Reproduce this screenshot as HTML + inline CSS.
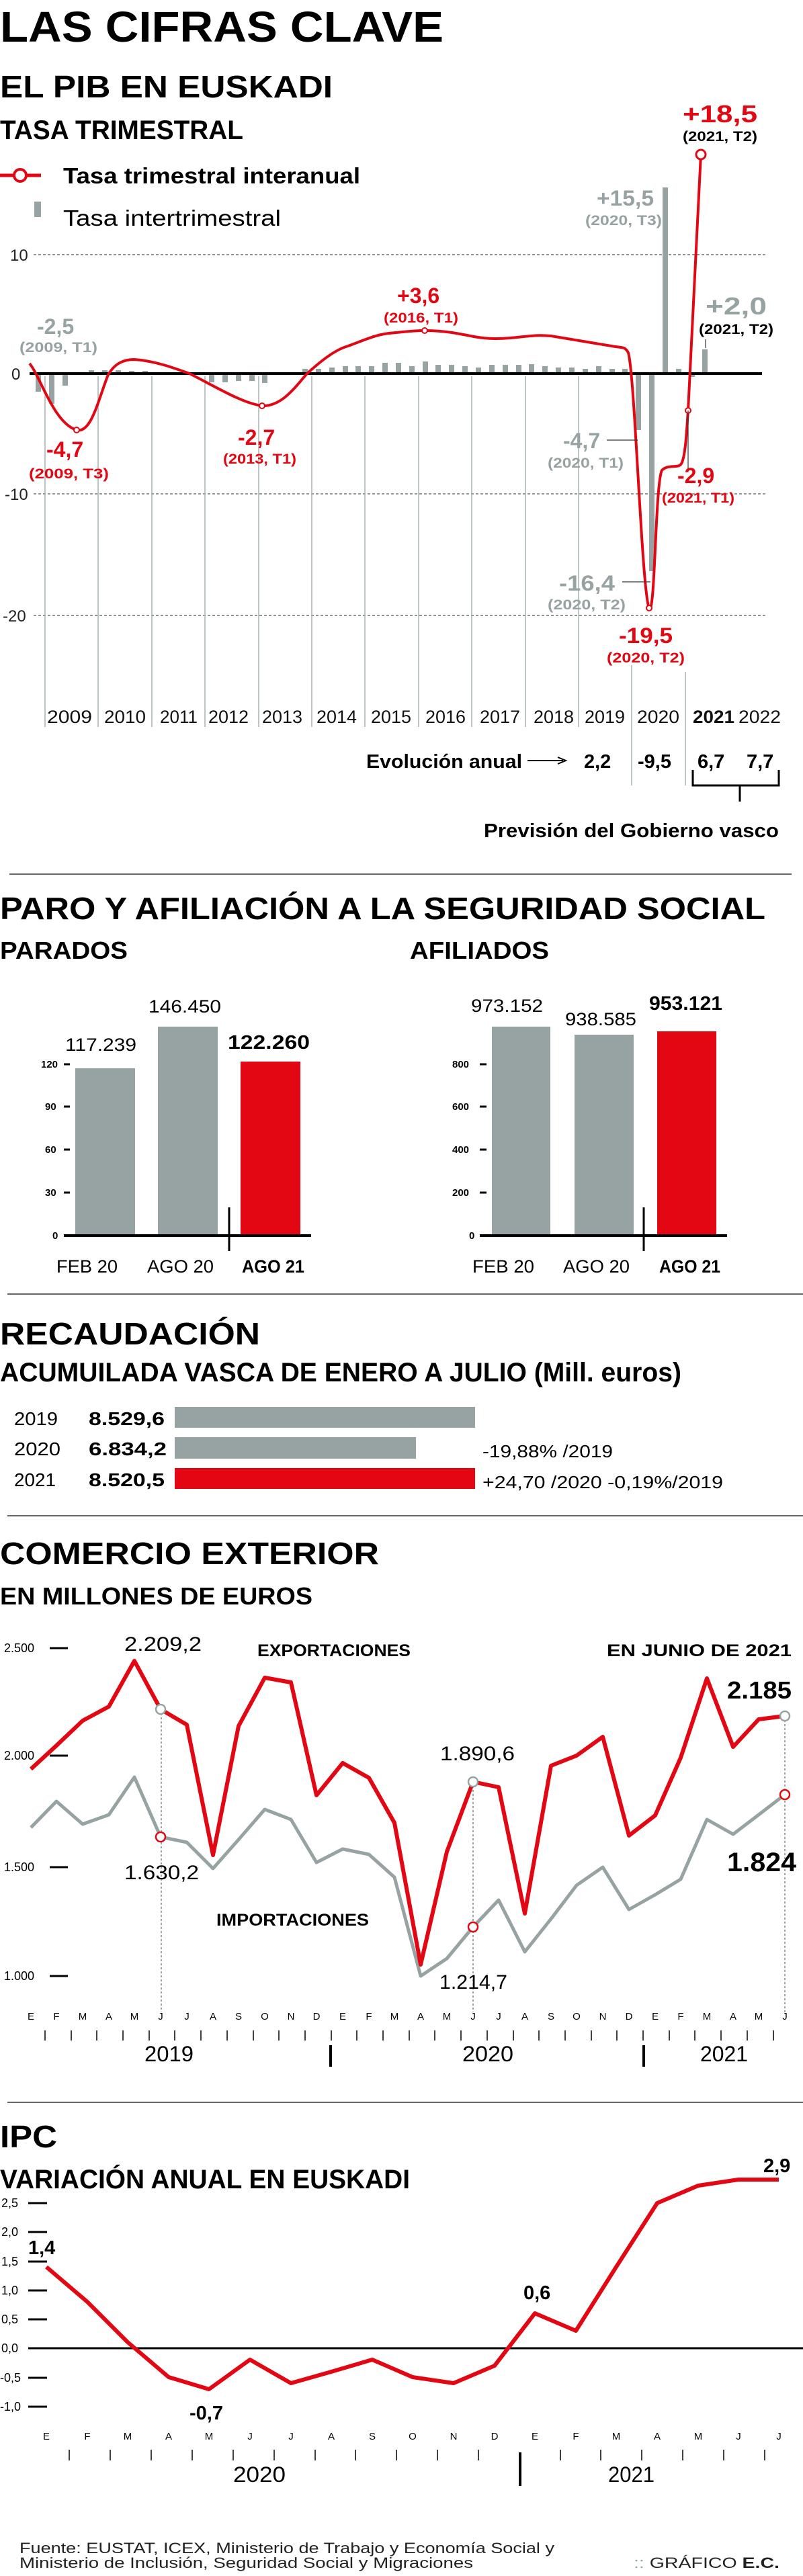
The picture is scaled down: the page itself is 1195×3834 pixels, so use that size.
<!DOCTYPE html>
<html><head><meta charset="utf-8"><style>
html,body{margin:0;padding:0;background:#fff;}
svg{display:block;}
text{font-family:"Liberation Sans",sans-serif;}
.h{font-weight:900;font-weight:bold;}
.b{font-weight:bold;}
.r{fill:#e30613;}
.g{fill:#97a3a2;}
</style></head><body>
<svg width="1195" height="3834" viewBox="0 0 1195 3834" xmlns="http://www.w3.org/2000/svg">
<rect width="1195" height="3834" fill="#fff"/>
<!-- TITLES -->
<text class="h" x="0" y="62" font-size="64" textLength="660" lengthAdjust="spacingAndGlyphs">LAS CIFRAS CLAVE</text>
<text class="h" x="0" y="145" font-size="46" textLength="495" lengthAdjust="spacingAndGlyphs">EL PIB EN EUSKADI</text>
<text class="b" x="0" y="207" font-size="40" textLength="362" lengthAdjust="spacingAndGlyphs">TASA TRIMESTRAL</text>
<!-- legend -->
<line x1="0" y1="261" x2="61" y2="261" stroke="#e30613" stroke-width="5"/>
<circle cx="30" cy="261" r="9" fill="#fff" stroke="#e30613" stroke-width="4"/>
<text class="b" x="94" y="273" font-size="33" textLength="442" lengthAdjust="spacingAndGlyphs">Tasa trimestral interanual</text>
<rect x="51" y="300" width="10" height="23" fill="#97a3a2"/>
<text x="94" y="336" font-size="33" textLength="324" lengthAdjust="spacingAndGlyphs">Tasa intertrimestral</text>
<!-- grid -->
<g stroke="#555" stroke-width="1.2" stroke-dasharray="4,3">
<line x1="50" y1="379" x2="1139" y2="379"/>
<line x1="50" y1="735" x2="1139" y2="735"/>
<line x1="50" y1="916" x2="1139" y2="916"/>
</g>
<g font-size="24" fill="#222">
<text x="15" y="388">10</text>
<text x="17" y="565">0</text>
<text x="7" y="744">-10</text>
<text x="4" y="925">-20</text>
</g>
<!-- year lines -->
<g stroke="#a9b3b2" stroke-width="1.5">
<line x1="67" y1="560" x2="67" y2="1082"/>
<line x1="146" y1="560" x2="146" y2="1082"/>
<line x1="226" y1="560" x2="226" y2="1082"/>
<line x1="305" y1="560" x2="305" y2="1082"/>
<line x1="385" y1="560" x2="385" y2="1082"/>
<line x1="464" y1="560" x2="464" y2="1082"/>
<line x1="543" y1="560" x2="543" y2="1082"/>
<line x1="623" y1="560" x2="623" y2="1082"/>
<line x1="702" y1="560" x2="702" y2="1082"/>
<line x1="782" y1="560" x2="782" y2="1082"/>
<line x1="861" y1="560" x2="861" y2="1082"/>
<line x1="940" y1="990" x2="940" y2="1169"/>
<line x1="1020" y1="1000" x2="1020" y2="1169"/>
</g>
<!-- bars -->
<g fill="#97a3a2">
<rect x="53" y="556" width="8" height="27"/><rect x="73" y="556" width="8" height="45"/><rect x="93" y="556" width="8" height="18"/>
<rect x="113" y="554" width="8" height="2"/><rect x="132" y="551" width="8" height="5"/><rect x="152" y="551" width="8" height="5"/>
<rect x="172" y="551" width="8" height="5"/><rect x="192" y="552" width="8" height="4"/><rect x="212" y="552" width="8" height="4"/>
<rect x="232" y="554" width="8" height="2"/><rect x="271" y="556" width="8" height="2"/><rect x="291" y="556" width="8" height="2"/>
<rect x="311" y="556" width="8" height="13"/><rect x="331" y="556" width="8" height="13"/><rect x="351" y="556" width="8" height="11"/>
<rect x="371" y="556" width="8" height="11"/><rect x="390" y="556" width="8" height="14"/><rect x="410" y="556" width="8" height="2"/>
<rect x="430" y="554" width="8" height="2"/><rect x="450" y="549" width="8" height="7"/><rect x="470" y="549" width="8" height="7"/>
<rect x="490" y="547" width="8" height="9"/><rect x="510" y="545" width="8" height="11"/><rect x="529" y="545" width="8" height="11"/>
<rect x="549" y="545" width="8" height="11"/><rect x="569" y="540" width="8" height="16"/><rect x="589" y="540" width="8" height="16"/>
<rect x="609" y="545" width="8" height="11"/><rect x="629" y="538" width="8" height="18"/><rect x="648" y="543" width="8" height="13"/>
<rect x="668" y="543" width="8" height="13"/><rect x="688" y="545" width="8" height="11"/><rect x="708" y="547" width="8" height="9"/>
<rect x="728" y="543" width="8" height="13"/><rect x="748" y="543" width="8" height="13"/><rect x="768" y="543" width="8" height="13"/>
<rect x="787" y="542" width="8" height="14"/><rect x="807" y="545" width="8" height="11"/><rect x="827" y="547" width="8" height="9"/>
<rect x="847" y="547" width="8" height="9"/><rect x="867" y="549" width="8" height="7"/><rect x="887" y="545" width="8" height="11"/>
<rect x="907" y="549" width="8" height="7"/><rect x="926" y="549" width="8" height="7"/>
<rect x="946" y="556" width="8" height="84"/><rect x="966" y="556" width="8" height="294"/><rect x="986" y="279" width="8" height="277"/>
<rect x="1006" y="549" width="8" height="7"/><rect x="1026" y="556" width="8" height="5"/><rect x="1045" y="520" width="8" height="36"/>
</g>
<line x1="44" y1="556" x2="1134" y2="556" stroke="#000" stroke-width="4"/>
<!-- red curve -->
<path d="M44,541 C60,560 80,630 114,640 C135,645 145,600 160,560 C170,540 185,535 200,535 C230,537 260,548 282,556 C320,575 360,600 390,604 C420,605 440,575 457,556 C480,535 500,520 518,515 C545,505 560,498 579,496 C600,494 615,492 632,492 C660,492 680,496 700,500 C720,504 735,505 760,503 C790,500 800,498 820,500 C850,505 880,510 910,515 C925,518 930,515 935,525 C945,560 955,880 966,905 C975,920 975,720 985,700 C995,690 1010,698 1014,690 C1020,680 1022,640 1024,611 L1043,230" fill="none" stroke="#e30613" stroke-width="4"/>
<g fill="#fff" stroke="#e30613" stroke-width="2">
<circle cx="114" cy="640" r="4"/><circle cx="390" cy="604" r="4"/><circle cx="632" cy="492" r="4"/><circle cx="966" cy="905" r="4"/><circle cx="1024" cy="611" r="4"/>
</g>
<circle cx="1043" cy="230" r="7" fill="#fff" stroke="#e30613" stroke-width="3"/>
<!-- leader lines -->
<g stroke="#333" stroke-width="1.2">
<line x1="903" y1="655" x2="949" y2="655"/>
<line x1="926" y1="866" x2="968" y2="866"/>
<line x1="1024" y1="611" x2="1024" y2="700"/>
<line x1="1050" y1="505" x2="1050" y2="518"/>
</g>
<!-- labels chart1 -->
<g class="b">
<text x="55" y="497" font-size="32" class="g b">-2,5</text>
<text x="29" y="524" font-size="21" class="g b" textLength="116" lengthAdjust="spacingAndGlyphs">(2009, T1)</text>
<text x="69" y="680" font-size="32" class="r b">-4,7</text>
<text x="43" y="712" font-size="21" class="r b" textLength="119" lengthAdjust="spacingAndGlyphs">(2009, T3)</text>
<text x="354" y="662" font-size="32" class="r b">-2,7</text>
<text x="332" y="690" font-size="21" class="r b" textLength="109" lengthAdjust="spacingAndGlyphs">(2013, T1)</text>
<text x="591" y="451" font-size="32" class="r b">+3,6</text>
<text x="571" y="480" font-size="21" class="r b" textLength="111" lengthAdjust="spacingAndGlyphs">(2016, T1)</text>
<text x="1016" y="182" font-size="36" class="r b" textLength="111" lengthAdjust="spacingAndGlyphs">+18,5</text>
<text x="1016" y="210" font-size="21" class="b" textLength="111" lengthAdjust="spacingAndGlyphs">(2021, T2)</text>
<text x="888" y="306" font-size="32" class="g b" textLength="85" lengthAdjust="spacingAndGlyphs">+15,5</text>
<text x="871" y="335" font-size="21" class="g b" textLength="114" lengthAdjust="spacingAndGlyphs">(2020, T3)</text>
<text x="1050" y="468" font-size="36" class="g b" textLength="91" lengthAdjust="spacingAndGlyphs">+2,0</text>
<text x="1040" y="497" font-size="21" class="b" textLength="111" lengthAdjust="spacingAndGlyphs">(2021, T2)</text>
<text x="838" y="667" font-size="32" class="g b">-4,7</text>
<text x="815" y="696" font-size="21" class="g b" textLength="113" lengthAdjust="spacingAndGlyphs">(2020, T1)</text>
<text x="832" y="879" font-size="32" class="g b" textLength="83" lengthAdjust="spacingAndGlyphs">-16,4</text>
<text x="815" y="907" font-size="21" class="g b" textLength="116" lengthAdjust="spacingAndGlyphs">(2020, T2)</text>
<text x="921" y="957" font-size="32" class="r b" textLength="80" lengthAdjust="spacingAndGlyphs">-19,5</text>
<text x="903" y="986" font-size="21" class="r b" textLength="116" lengthAdjust="spacingAndGlyphs">(2020, T2)</text>
<text x="1008" y="719" font-size="32" class="r b">-2,9</text>
<text x="985" y="748" font-size="21" class="r b" textLength="108" lengthAdjust="spacingAndGlyphs">(2021, T1)</text>
</g>
<!-- years -->
<g font-size="27" fill="#111">
<text x="70" y="1076" textLength="67" lengthAdjust="spacingAndGlyphs">2009</text>
<text x="155" y="1076" textLength="62" lengthAdjust="spacingAndGlyphs">2010</text>
<text x="238" y="1076" textLength="56" lengthAdjust="spacingAndGlyphs">2011</text>
<text x="310" y="1076" textLength="60" lengthAdjust="spacingAndGlyphs">2012</text>
<text x="390" y="1076" textLength="60" lengthAdjust="spacingAndGlyphs">2013</text>
<text x="471" y="1076" textLength="60" lengthAdjust="spacingAndGlyphs">2014</text>
<text x="552" y="1076" textLength="60" lengthAdjust="spacingAndGlyphs">2015</text>
<text x="633" y="1076" textLength="60" lengthAdjust="spacingAndGlyphs">2016</text>
<text x="714" y="1076" textLength="60" lengthAdjust="spacingAndGlyphs">2017</text>
<text x="794" y="1076" textLength="60" lengthAdjust="spacingAndGlyphs">2018</text>
<text x="870" y="1076" textLength="60" lengthAdjust="spacingAndGlyphs">2019</text>
<text x="948" y="1076" textLength="63" lengthAdjust="spacingAndGlyphs">2020</text>
<text x="1031" y="1076" class="b" textLength="62" lengthAdjust="spacingAndGlyphs">2021</text>
<text x="1099" y="1076" textLength="63" lengthAdjust="spacingAndGlyphs">2022</text>
</g>
<g class="b" font-size="29">
<text x="545" y="1143" class="b" textLength="232" lengthAdjust="spacingAndGlyphs">Evolución anual</text>
<text x="869" y="1143" class="b">2,2</text>
<text x="949" y="1143" class="b">-9,5</text>
<text x="1038" y="1143" class="b">6,7</text>
<text x="1111" y="1143" class="b">7,7</text>
<text x="720" y="1246" class="b" textLength="439" lengthAdjust="spacingAndGlyphs">Previsión del Gobierno vasco</text>
</g>
<line x1="785" y1="1132" x2="838" y2="1132" stroke="#000" stroke-width="2"/>
<path d="M830,1127 L842,1132 L830,1137" fill="none" stroke="#000" stroke-width="2"/>
<path d="M1031,1146 L1031,1169 L1159,1169 L1159,1146 M1101,1169 L1101,1193" fill="none" stroke="#000" stroke-width="3"/>
<line x1="14" y1="1301" x2="1178" y2="1301" stroke="#333" stroke-width="1.5"/>

<!-- PARO -->
<text class="h" x="0" y="1368" font-size="46" textLength="1139" lengthAdjust="spacingAndGlyphs">PARO Y AFILIACIÓN A LA SEGURIDAD SOCIAL</text>
<text class="b" x="0" y="1427" font-size="36" textLength="190" lengthAdjust="spacingAndGlyphs">PARADOS</text>
<text class="b" x="610" y="1427" font-size="36" textLength="207" lengthAdjust="spacingAndGlyphs">AFILIADOS</text>
<g font-size="15" class="b">
<text x="61" y="1589" class="b">120</text><text x="67" y="1652" class="b">90</text><text x="67" y="1716" class="b">60</text><text x="67" y="1780" class="b">30</text><text x="78" y="1844" class="b">0</text>
<text x="673" y="1589" class="b">800</text><text x="673" y="1652" class="b">600</text><text x="673" y="1716" class="b">400</text><text x="673" y="1780" class="b">200</text><text x="698" y="1844" class="b">0</text>
</g>
<g stroke="#000" stroke-width="3">
<line x1="95" y1="1584" x2="104" y2="1584"/><line x1="95" y1="1647" x2="104" y2="1647"/><line x1="95" y1="1711" x2="104" y2="1711"/><line x1="95" y1="1775" x2="104" y2="1775"/>
<line x1="714" y1="1584" x2="724" y2="1584"/><line x1="714" y1="1647" x2="724" y2="1647"/><line x1="714" y1="1711" x2="724" y2="1711"/><line x1="714" y1="1775" x2="724" y2="1775"/>
</g>
<rect x="112" y="1590" width="89" height="249" fill="#97a3a2"/>
<rect x="235" y="1528" width="89" height="311" fill="#97a3a2"/>
<rect x="358" y="1580" width="89" height="259" fill="#e30613"/>
<rect x="732" y="1528" width="87" height="311" fill="#97a3a2"/>
<rect x="855" y="1540" width="88" height="299" fill="#97a3a2"/>
<rect x="978" y="1535" width="88" height="304" fill="#e30613"/>
<line x1="95" y1="1839" x2="463" y2="1839" stroke="#000" stroke-width="4"/>
<line x1="714" y1="1839" x2="1082" y2="1839" stroke="#000" stroke-width="4"/>
<line x1="341" y1="1797" x2="341" y2="1862" stroke="#000" stroke-width="3"/>
<line x1="958" y1="1797" x2="958" y2="1862" stroke="#000" stroke-width="3"/>
<g font-size="27">
<text x="97" y="1564" textLength="106" lengthAdjust="spacingAndGlyphs">117.239</text>
<text x="221" y="1507" textLength="108" lengthAdjust="spacingAndGlyphs">146.450</text>
<text x="339" y="1561" class="b" font-size="29" textLength="122" lengthAdjust="spacingAndGlyphs">122.260</text>
<text x="701" y="1506" textLength="107" lengthAdjust="spacingAndGlyphs">973.152</text>
<text x="841" y="1526" textLength="106" lengthAdjust="spacingAndGlyphs">938.585</text>
<text x="966" y="1503" class="b" font-size="29" textLength="109" lengthAdjust="spacingAndGlyphs">953.121</text>
<text x="84" y="1894" textLength="91" lengthAdjust="spacingAndGlyphs">FEB 20</text>
<text x="219" y="1894" textLength="99" lengthAdjust="spacingAndGlyphs">AGO 20</text>
<text x="360" y="1894" class="b" textLength="93" lengthAdjust="spacingAndGlyphs">AGO 21</text>
<text x="703" y="1894" textLength="92" lengthAdjust="spacingAndGlyphs">FEB 20</text>
<text x="838" y="1894" textLength="99" lengthAdjust="spacingAndGlyphs">AGO 20</text>
<text x="981" y="1894" class="b" textLength="91" lengthAdjust="spacingAndGlyphs">AGO 21</text>
</g>
<line x1="11" y1="1926" x2="1195" y2="1926" stroke="#333" stroke-width="1.5"/>

<!-- RECAUDACION -->
<text class="h" x="0" y="2001" font-size="46" textLength="387" lengthAdjust="spacingAndGlyphs">RECAUDACIÓN</text>
<text class="b" x="0" y="2056" font-size="40" textLength="1014" lengthAdjust="spacingAndGlyphs">ACUMUILADA VASCA DE ENERO A JULIO (Mill. euros)</text>
<g font-size="28">
<text x="21" y="2121" textLength="65" lengthAdjust="spacingAndGlyphs">2019</text>
<text x="21" y="2166" textLength="69" lengthAdjust="spacingAndGlyphs">2020</text>
<text x="21" y="2212" textLength="62" lengthAdjust="spacingAndGlyphs">2021</text>
<text x="132" y="2121" class="b" textLength="113" lengthAdjust="spacingAndGlyphs">8.529,6</text>
<text x="132" y="2166" class="b" textLength="116" lengthAdjust="spacingAndGlyphs">6.834,2</text>
<text x="132" y="2212" class="b" textLength="113" lengthAdjust="spacingAndGlyphs">8.520,5</text>
<text x="718" y="2169" font-size="26" textLength="194" lengthAdjust="spacingAndGlyphs">-19,88% /2019</text>
<text x="718" y="2215" font-size="26" textLength="358" lengthAdjust="spacingAndGlyphs">+24,70 /2020 -0,19%/2019</text>
</g>
<rect x="260" y="2094" width="447" height="31" fill="#97a3a2"/>
<rect x="260" y="2139" width="359" height="32" fill="#97a3a2"/>
<rect x="260" y="2185" width="447" height="31" fill="#e30613"/>
<line x1="11" y1="2256" x2="1195" y2="2256" stroke="#333" stroke-width="1.5"/>

<!-- COMERCIO -->
<text class="h" x="0" y="2328" font-size="46" textLength="564" lengthAdjust="spacingAndGlyphs">COMERCIO EXTERIOR</text>
<text class="b" x="0" y="2388" font-size="36" textLength="465" lengthAdjust="spacingAndGlyphs">EN MILLONES DE EUROS</text>
<g font-size="18">
<text x="6" y="2459">2.500</text><text x="6" y="2619">2.000</text><text x="6" y="2785">1.500</text><text x="6" y="2947">1.000</text>
</g>
<g stroke="#000" stroke-width="3">
<line x1="74" y1="2453" x2="101" y2="2453"/><line x1="74" y1="2613" x2="101" y2="2613"/><line x1="74" y1="2779" x2="101" y2="2779"/><line x1="74" y1="2941" x2="101" y2="2941"/>
</g>
<g stroke="#444" stroke-width="1" stroke-dasharray="3,3">
<line x1="240" y1="2544" x2="240" y2="2995"/>
<line x1="704" y1="2652" x2="704" y2="2995"/>
<line x1="1168" y1="2554" x2="1168" y2="2995"/>
</g>
<polyline fill="none" stroke="#97a3a2" stroke-width="5" stroke-linejoin="round" points="46,2720 84,2681 123,2715 162,2701 200,2645 239,2734 278,2742 317,2781 355,2738 394,2693 433,2708 471,2772 510,2752 549,2760 587,2794 626,2941 665,2915 704,2868 742,2828 781,2905 820,2856 858,2806 897,2779 936,2842 975,2820 1013,2797 1052,2708 1091,2730 1129,2701 1168,2671"/>
<polyline fill="none" stroke="#e30613" stroke-width="6" stroke-linejoin="round" points="46,2633 84,2598 123,2561 162,2540 200,2472 239,2544 278,2567 317,2761 355,2569 394,2497 433,2504 471,2672 510,2624 549,2646 587,2713 626,2924 665,2756 704,2652 742,2660 781,2848 820,2628 858,2613 897,2585 936,2732 975,2702 1013,2616 1052,2498 1091,2600 1129,2559 1168,2554"/>
<g fill="#fff" stroke-width="2.5">
<circle cx="239" cy="2544" r="7" stroke="#97a3a2"/><circle cx="239" cy="2734" r="7" stroke="#e30613"/>
<circle cx="704" cy="2652" r="7" stroke="#97a3a2"/><circle cx="704" cy="2868" r="7" stroke="#e30613"/>
<circle cx="1168" cy="2554" r="7" stroke="#97a3a2"/><circle cx="1168" cy="2671" r="7" stroke="#e30613"/>
</g>
<text x="185" y="2457" font-size="30" textLength="115" lengthAdjust="spacingAndGlyphs">2.209,2</text>
<text x="383" y="2465" class="b" font-size="25" textLength="228" lengthAdjust="spacingAndGlyphs">EXPORTACIONES</text>
<text x="903" y="2465" class="b" font-size="25" textLength="275" lengthAdjust="spacingAndGlyphs">EN JUNIO DE 2021</text>
<text x="1082" y="2528" class="b" font-size="36" textLength="96" lengthAdjust="spacingAndGlyphs">2.185</text>
<text x="655" y="2620" font-size="30" textLength="111" lengthAdjust="spacingAndGlyphs">1.890,6</text>
<text x="185" y="2797" font-size="30" textLength="111" lengthAdjust="spacingAndGlyphs">1.630,2</text>
<text x="322" y="2866" class="b" font-size="25" textLength="227" lengthAdjust="spacingAndGlyphs">IMPORTACIONES</text>
<text x="654" y="2960" font-size="30" textLength="101" lengthAdjust="spacingAndGlyphs">1.214,7</text>
<text x="1082" y="2785" class="b" font-size="40" textLength="103" lengthAdjust="spacingAndGlyphs">1.824</text>
<g font-size="15" text-anchor="middle">
<text x="46" y="3006">E</text><text x="84" y="3006">F</text><text x="123" y="3006">M</text><text x="162" y="3006">A</text><text x="200" y="3006">M</text><text x="239" y="3006">J</text><text x="278" y="3006">J</text><text x="317" y="3006">A</text><text x="355" y="3006">S</text><text x="394" y="3006">O</text><text x="433" y="3006">N</text><text x="471" y="3006">D</text>
<text x="510" y="3006">E</text><text x="549" y="3006">F</text><text x="587" y="3006">M</text><text x="626" y="3006">A</text><text x="665" y="3006">M</text><text x="704" y="3006">J</text><text x="742" y="3006">J</text><text x="781" y="3006">A</text><text x="820" y="3006">S</text><text x="858" y="3006">O</text><text x="897" y="3006">N</text><text x="936" y="3006">D</text>
<text x="975" y="3006">E</text><text x="1013" y="3006">F</text><text x="1052" y="3006">M</text><text x="1091" y="3006">A</text><text x="1129" y="3006">M</text><text x="1168" y="3006">J</text>
</g>
<path stroke="#000" stroke-width="1.5" d="M67,3022v15M106,3022v15M144,3022v15M183,3022v15M222,3022v15M260,3022v15M299,3022v15M338,3022v15M377,3022v15M415,3022v15M454,3022v15M493,3022v15M531,3022v15M570,3022v15M609,3022v15M647,3022v15M686,3022v15M725,3022v15M764,3022v15M802,3022v15M841,3022v15M880,3022v15M918,3022v15M957,3022v15M996,3022v15M1034,3022v15M1073,3022v15M1112,3022v15M1151,3022v15"/>
<path stroke="#000" stroke-width="4" d="M492,3044v32M958,3044v32"/>
<g font-size="32">
<text x="215" y="3068" textLength="73" lengthAdjust="spacingAndGlyphs">2019</text>
<text x="688" y="3068" textLength="76" lengthAdjust="spacingAndGlyphs">2020</text>
<text x="1042" y="3068" textLength="71" lengthAdjust="spacingAndGlyphs">2021</text>
</g>
<line x1="11" y1="3129" x2="1195" y2="3129" stroke="#333" stroke-width="1.5"/>

<!-- IPC -->
<text class="h" x="0" y="3196" font-size="46" textLength="85" lengthAdjust="spacingAndGlyphs">IPC</text>
<text class="b" x="0" y="3257" font-size="40" textLength="610" lengthAdjust="spacingAndGlyphs">VARIACIÓN ANUAL EN EUSKADI</text>
<g font-size="18">
<text x="2" y="3285">2,5</text><text x="2" y="3328">2,0</text><text x="2" y="3372">1,5</text><text x="2" y="3415">1,0</text><text x="2" y="3458">0,5</text><text x="2" y="3501">0,0</text><text x="0" y="3545">-0,5</text><text x="0" y="3588">-1,0</text>
</g>
<g stroke="#000" stroke-width="3">
<line x1="42" y1="3279" x2="70" y2="3279"/><line x1="42" y1="3322" x2="70" y2="3322"/><line x1="42" y1="3366" x2="70" y2="3366"/><line x1="42" y1="3409" x2="70" y2="3409"/><line x1="42" y1="3452" x2="70" y2="3452"/><line x1="42" y1="3539" x2="70" y2="3539"/><line x1="42" y1="3582" x2="70" y2="3582"/>
</g>
<line x1="42" y1="3495" x2="1195" y2="3495" stroke="#000" stroke-width="3"/>
<polyline fill="none" stroke="#e30613" stroke-width="6" stroke-linejoin="round" points="69,3374 130,3426 190,3486 251,3538 311,3556 372,3512 433,3547 493,3530 554,3512 614,3538 675,3547 736,3521 796,3443 857,3469 917,3374 978,3279 1039,3253 1099,3244 1159,3244"/>
<g class="b" font-size="29">
<text x="42" y="3355" class="b">1,4</text>
<text x="282" y="3601" class="b">-0,7</text>
<text x="779" y="3422" class="b">0,6</text>
<text x="1136" y="3233" class="b">2,9</text>
</g>
<g font-size="15" text-anchor="middle">
<text x="69" y="3631">E</text><text x="130" y="3631">F</text><text x="190" y="3631">M</text><text x="251" y="3631">A</text><text x="311" y="3631">M</text><text x="372" y="3631">J</text><text x="433" y="3631">J</text><text x="493" y="3631">A</text><text x="554" y="3631">S</text><text x="614" y="3631">O</text><text x="675" y="3631">N</text><text x="736" y="3631">D</text><text x="796" y="3631">E</text><text x="857" y="3631">F</text><text x="917" y="3631">M</text><text x="978" y="3631">A</text><text x="1039" y="3631">M</text><text x="1099" y="3631">J</text><text x="1159" y="3631">J</text>
</g>
<path stroke="#000" stroke-width="1.5" d="M103,3646v16M164,3646v16M225,3646v16M286,3646v16M347,3646v16M408,3646v16M469,3646v16M529,3646v16M590,3646v16M651,3646v16M712,3646v16M834,3646v16M894,3646v16M955,3646v16M1016,3646v16M1077,3646v16M1138,3646v16"/>
<path stroke="#000" stroke-width="4" d="M774,3650v50"/>
<g font-size="32">
<text x="347" y="3694" textLength="78" lengthAdjust="spacingAndGlyphs">2020</text>
<text x="905" y="3694" textLength="69" lengthAdjust="spacingAndGlyphs">2021</text>
</g>
<!-- footer -->
<g font-size="22" fill="#222">
<text x="29" y="3800" textLength="796" lengthAdjust="spacingAndGlyphs">Fuente: EUSTAT, ICEX, Ministerio de Trabajo y Economía Social y</text>
<text x="29" y="3822" textLength="675" lengthAdjust="spacingAndGlyphs">Ministerio de Inclusión, Seguridad Social y Migraciones</text>
<text x="943" y="3822" textLength="217" lengthAdjust="spacingAndGlyphs"><tspan fill="#97a3a2">:: </tspan>GRÁFICO <tspan font-weight="bold">E.C.</tspan></text>
</g>
</svg>
</body></html>
